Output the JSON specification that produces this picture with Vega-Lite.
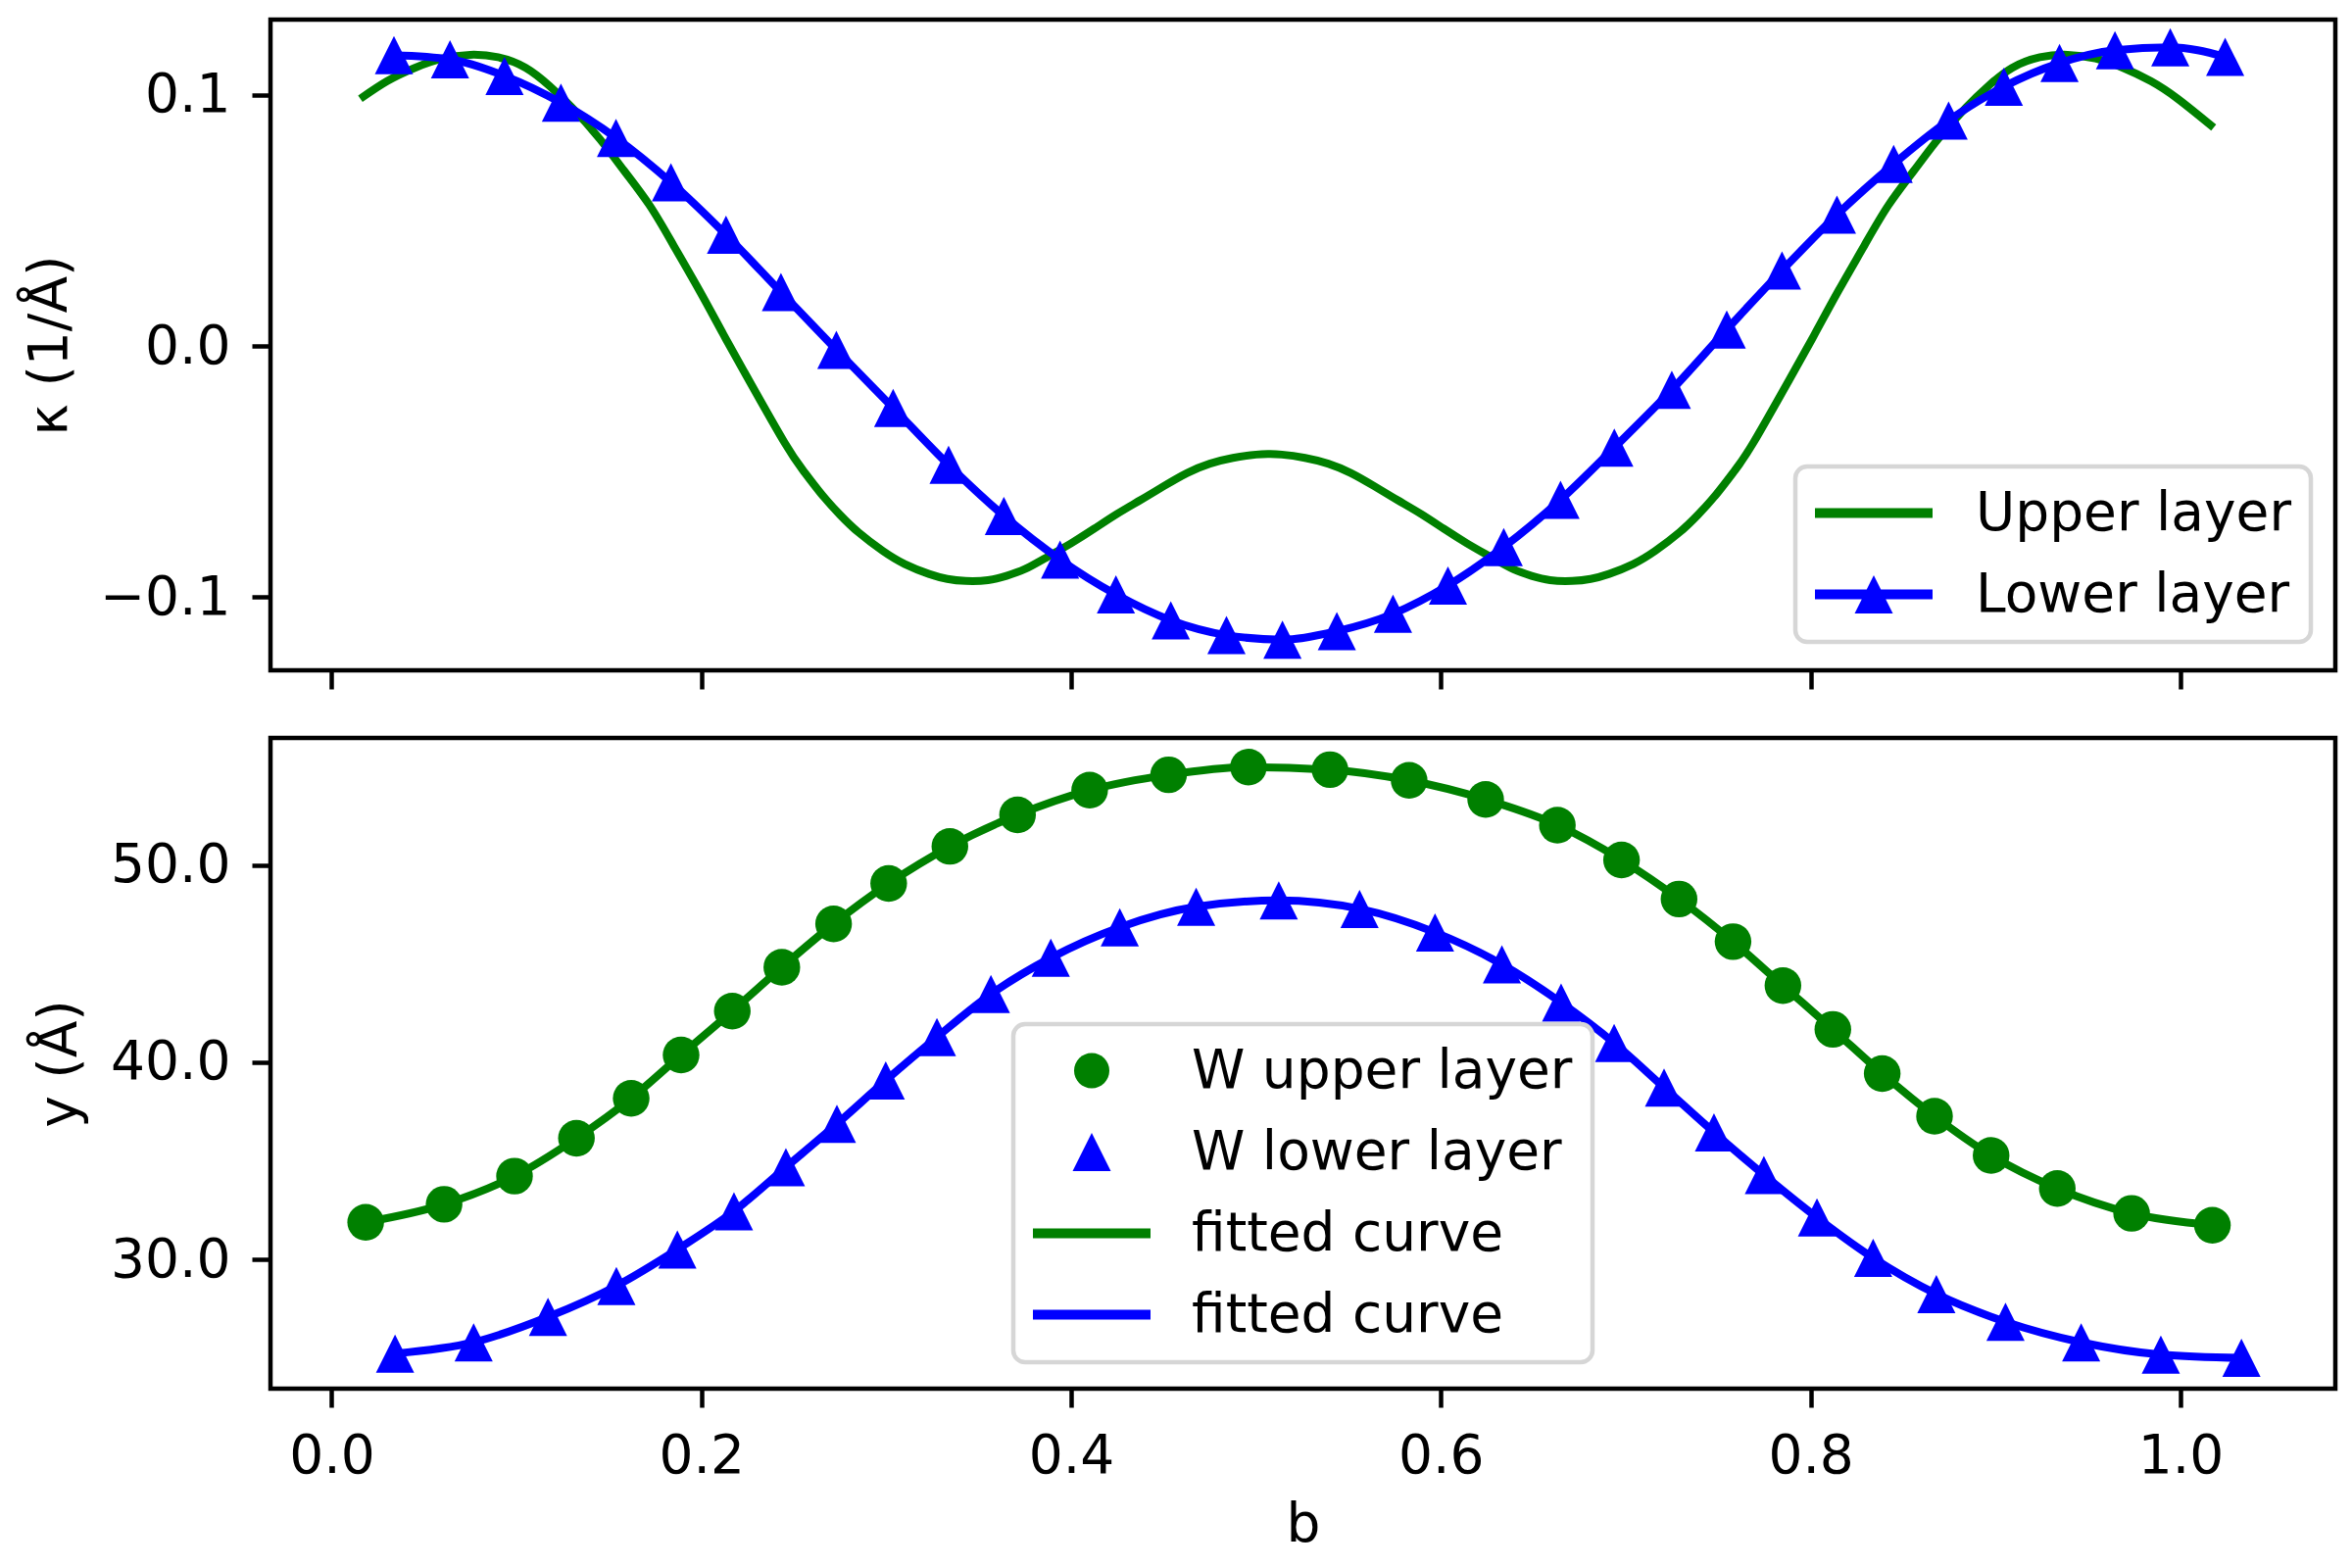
{
  "$schema": "https://vega.github.io/schema/vega-lite/v6.json",
  "background": "white",
  "padding": {"left": 20, "top": 17, "right": 10, "bottom": 10},
  "spacing": 69,
  "bounds": "flush",
  "datasets": {
    "kappa_upper": [
      {"b": 0.0155, "k": 0.0985}, {"b": 0.03, "k": 0.1055}, {"b": 0.045, "k": 0.1108},
      {"b": 0.06, "k": 0.1145}, {"b": 0.075, "k": 0.116}, {"b": 0.09, "k": 0.115},
      {"b": 0.105, "k": 0.1108}, {"b": 0.118, "k": 0.1035}, {"b": 0.13, "k": 0.095},
      {"b": 0.145, "k": 0.0825}, {"b": 0.158, "k": 0.07}, {"b": 0.172, "k": 0.056},
      {"b": 0.185, "k": 0.04}, {"b": 0.199, "k": 0.022}, {"b": 0.212, "k": 0.0045},
      {"b": 0.226, "k": -0.014}, {"b": 0.245, "k": -0.0385}, {"b": 0.255, "k": -0.0495},
      {"b": 0.265, "k": -0.059}, {"b": 0.275, "k": -0.0672}, {"b": 0.285, "k": -0.0742},
      {"b": 0.298, "k": -0.0815}, {"b": 0.31, "k": -0.0868}, {"b": 0.323, "k": -0.0907},
      {"b": 0.333, "k": -0.0927}, {"b": 0.343, "k": -0.0935}, {"b": 0.355, "k": -0.0932},
      {"b": 0.365, "k": -0.0915}, {"b": 0.375, "k": -0.0888}, {"b": 0.387, "k": -0.084},
      {"b": 0.4, "k": -0.0785}, {"b": 0.4125, "k": -0.0727}, {"b": 0.4246, "k": -0.0669},
      {"b": 0.4375, "k": -0.0613}, {"b": 0.45, "k": -0.0558}, {"b": 0.4628, "k": -0.0505},
      {"b": 0.475, "k": -0.0468}, {"b": 0.4875, "k": -0.0445}, {"b": 0.5, "k": -0.0432},
      {"b": 0.507, "k": -0.043}, {"b": 0.514, "k": -0.0432}, {"b": 0.5265, "k": -0.0445},
      {"b": 0.539, "k": -0.0468}, {"b": 0.5512, "k": -0.0505}, {"b": 0.564, "k": -0.0558},
      {"b": 0.5765, "k": -0.0613}, {"b": 0.5894, "k": -0.0669}, {"b": 0.6015, "k": -0.0727},
      {"b": 0.614, "k": -0.0785}, {"b": 0.627, "k": -0.084}, {"b": 0.639, "k": -0.0888},
      {"b": 0.649, "k": -0.0915}, {"b": 0.659, "k": -0.0932}, {"b": 0.671, "k": -0.0935},
      {"b": 0.681, "k": -0.0927}, {"b": 0.691, "k": -0.0907}, {"b": 0.704, "k": -0.0868},
      {"b": 0.716, "k": -0.0815}, {"b": 0.729, "k": -0.0742}, {"b": 0.739, "k": -0.0672},
      {"b": 0.749, "k": -0.059}, {"b": 0.759, "k": -0.0495}, {"b": 0.769, "k": -0.0385},
      {"b": 0.788, "k": -0.014}, {"b": 0.802, "k": 0.0045}, {"b": 0.815, "k": 0.022},
      {"b": 0.829, "k": 0.04}, {"b": 0.842, "k": 0.056}, {"b": 0.856, "k": 0.07},
      {"b": 0.869, "k": 0.0825}, {"b": 0.884, "k": 0.095}, {"b": 0.896, "k": 0.1035},
      {"b": 0.909, "k": 0.1108}, {"b": 0.924, "k": 0.115}, {"b": 0.939, "k": 0.116},
      {"b": 0.954, "k": 0.1145}, {"b": 0.969, "k": 0.1108}, {"b": 0.984, "k": 0.1055},
      {"b": 0.9985, "k": 0.0985}, {"b": 1.018, "k": 0.087}
    ],
    "kappa_lower": [
      {"b": 0.0337, "k": 0.1159}, {"b": 0.064, "k": 0.1142}, {"b": 0.0935, "k": 0.1076},
      {"b": 0.124, "k": 0.0969}, {"b": 0.1538, "k": 0.0829}, {"b": 0.1835, "k": 0.0652},
      {"b": 0.2133, "k": 0.0443}, {"b": 0.243, "k": 0.0215}, {"b": 0.273, "k": -0.0015},
      {"b": 0.3037, "k": -0.0246}, {"b": 0.3337, "k": -0.0473}, {"b": 0.3636, "k": -0.0676},
      {"b": 0.394, "k": -0.085}, {"b": 0.4242, "k": -0.0989}, {"b": 0.4539, "k": -0.1092},
      {"b": 0.484, "k": -0.1151}, {"b": 0.5143, "k": -0.1169}, {"b": 0.5437, "k": -0.1135},
      {"b": 0.5741, "k": -0.1066}, {"b": 0.6038, "k": -0.0953}, {"b": 0.634, "k": -0.08},
      {"b": 0.6647, "k": -0.0612}, {"b": 0.6938, "k": -0.0404}, {"b": 0.7249, "k": -0.0174},
      {"b": 0.7546, "k": 0.0066}, {"b": 0.7845, "k": 0.0301}, {"b": 0.8142, "k": 0.0523},
      {"b": 0.8449, "k": 0.0725}, {"b": 0.8746, "k": 0.0898}, {"b": 0.9045, "k": 0.1033},
      {"b": 0.9346, "k": 0.1127}, {"b": 0.9646, "k": 0.1178}, {"b": 0.9945, "k": 0.119},
      {"b": 1.0242, "k": 0.1152}
    ],
    "w_upper": [
      {"b": 0.0184, "y": 31.89}, {"b": 0.0608, "y": 32.8}, {"b": 0.0989, "y": 34.23},
      {"b": 0.1324, "y": 36.15}, {"b": 0.162, "y": 38.17}, {"b": 0.189, "y": 40.37},
      {"b": 0.2167, "y": 42.6}, {"b": 0.2435, "y": 44.82}, {"b": 0.2715, "y": 47.02},
      {"b": 0.3013, "y": 49.07}, {"b": 0.3344, "y": 50.95}, {"b": 0.371, "y": 52.55},
      {"b": 0.41, "y": 53.8}, {"b": 0.4527, "y": 54.58}, {"b": 0.4959, "y": 54.97},
      {"b": 0.54, "y": 54.84}, {"b": 0.5828, "y": 54.3}, {"b": 0.6242, "y": 53.33},
      {"b": 0.663, "y": 52.03}, {"b": 0.6977, "y": 50.26}, {"b": 0.7288, "y": 48.28},
      {"b": 0.758, "y": 46.12}, {"b": 0.785, "y": 43.89}, {"b": 0.812, "y": 41.67},
      {"b": 0.8387, "y": 39.43}, {"b": 0.867, "y": 37.27}, {"b": 0.8976, "y": 35.28},
      {"b": 0.9334, "y": 33.6}, {"b": 0.9736, "y": 32.34}, {"b": 1.0173, "y": 31.74}
    ],
    "w_lower": [
      {"b": 0.0343, "y": 25.23}, {"b": 0.0768, "y": 25.8}, {"b": 0.117, "y": 27.09},
      {"b": 0.154, "y": 28.66}, {"b": 0.187, "y": 30.51}, {"b": 0.2176, "y": 32.45},
      {"b": 0.2457, "y": 34.68}, {"b": 0.2733, "y": 36.88}, {"b": 0.2997, "y": 39.08},
      {"b": 0.3274, "y": 41.28}, {"b": 0.3566, "y": 43.46}, {"b": 0.389, "y": 45.3},
      {"b": 0.4263, "y": 46.85}, {"b": 0.4676, "y": 47.89}, {"b": 0.5123, "y": 48.21},
      {"b": 0.556, "y": 47.78}, {"b": 0.5968, "y": 46.59}, {"b": 0.633, "y": 44.97},
      {"b": 0.665, "y": 43.03}, {"b": 0.6937, "y": 40.98}, {"b": 0.7207, "y": 38.72},
      {"b": 0.7477, "y": 36.45}, {"b": 0.7747, "y": 34.29}, {"b": 0.8034, "y": 32.13},
      {"b": 0.8338, "y": 30.08}, {"b": 0.868, "y": 28.25}, {"b": 0.9054, "y": 26.84},
      {"b": 0.9463, "y": 25.8}, {"b": 0.9894, "y": 25.18}, {"b": 1.033, "y": 25.01}
    ]
  },
  "vconcat": [
    {
      "width": 2107,
      "height": 664,
      "encoding": {
        "x": {
          "field": "b", "type": "quantitative",
          "scale": {"domain": [-0.0331, 1.0838], "nice": false, "zero": false},
          "axis": {"values": [0, 0.2, 0.4, 0.6, 0.8, 1.0], "labels": false, "title": null}
        },
        "y": {
          "field": "k", "type": "quantitative",
          "scale": {"domain": [-0.1291, 0.13], "nice": false, "zero": false},
          "axis": {"values": [-0.1, 0, 0.1], "format": ".1f", "title": "κ (1/Å)", "titleX": -226, "titleBaseline": "middle"}
        }
      },
      "layer": [
        {
          "data": {"name": "kappa_upper"},
          "mark": {"type": "line", "strokeWidth": 8, "interpolate": "natural"},
          "encoding": {
            "color": {
              "datum": "Upper layer", "type": "nominal",
              "scale": {"domain": ["Upper layer", "Lower layer"], "range": ["#008000", "#0000ff"]},
              "legend": {
                "title": null, "orient": "none", "legendX": 1556, "legendY": 456,
                "padding": 20, "cornerRadius": 12, "fillColor": "white", "strokeColor": "#d6d6d6",
                "symbolSize": 14400, "clipHeight": 55, "rowPadding": 27, "labelOffset": 44,
                "labelFontSize": 55, "labelFont": "DejaVu Sans", "labelColor": "black", "labelLimit": 1000,
                "encode": {
                  "legend": {"update": {"strokeWidth": {"value": 4.5}}},
                  "symbols": {"update": {
                    "shape": {"signal": "datum.value === 'Lower layer' ? 'M-1,-0.083H1V0.083H-1Z M0,-0.325L0.325,0.325L-0.325,0.325Z' : 'M-1,-0.083H1V0.083H-1Z'"},
                    "fill": {"signal": "datum.value === 'Lower layer' ? '#0000ff' : '#008000'"},
                    "stroke": {"value": "transparent"},
                    "strokeWidth": {"value": 0},
                    "size": {"value": 14400},
                    "opacity": {"value": 1}
                  }}
                }
              }
            }
          }
        },
        {
          "data": {"name": "kappa_lower"},
          "mark": {"type": "line", "strokeWidth": 8, "interpolate": "monotone"},
          "encoding": {"color": {"datum": "Lower layer", "type": "nominal"}}
        },
        {
          "data": {"name": "kappa_lower"},
          "mark": {"type": "point", "shape": "M0,-1L1,1L-1,1Z", "filled": true, "size": 1521, "opacity": 1},
          "encoding": {"color": {"datum": "Lower layer", "type": "nominal"}}
        }
      ]
    },
    {
      "width": 2107,
      "height": 664,
      "encoding": {
        "x": {
          "field": "b", "type": "quantitative",
          "scale": {"domain": [-0.0331, 1.0838], "nice": false, "zero": false},
          "axis": {"values": [0, 0.2, 0.4, 0.6, 0.8, 1.0], "format": ".1f", "title": "b", "titlePadding": 16}
        },
        "y": {
          "field": "y", "type": "quantitative",
          "scale": {"domain": [23.45, 56.45], "nice": false, "zero": false},
          "axis": {"values": [30, 40, 50], "format": ".1f", "title": "y (Å)", "titleX": -216, "titleBaseline": "middle"}
        }
      },
      "layer": [
        {
          "data": {"name": "w_upper"},
          "mark": {"type": "line", "strokeWidth": 8, "interpolate": "monotone"},
          "encoding": {
            "color": {
              "datum": "fitted curve (green)", "type": "nominal",
              "scale": {"domain": ["W upper layer", "W lower layer", "fitted curve (green)", "fitted curve (blue)"], "range": ["#008000", "#0000ff", "#008000", "#0000ff"]},
              "legend": {
                "title": null, "orient": "none", "legendX": 758, "legendY": 292,
                "padding": 20, "cornerRadius": 12, "fillColor": "white", "strokeColor": "#d6d6d6",
                "symbolSize": 14400, "clipHeight": 55, "rowPadding": 27, "labelOffset": 42,
                "labelFontSize": 55, "labelFont": "DejaVu Sans", "labelColor": "black", "labelLimit": 1000,
                "labelExpr": "indexof(datum.label, 'fitted') === 0 ? 'fitted curve' : datum.label",
                "encode": {
                  "legend": {"update": {"strokeWidth": {"value": 4.5}}},
                  "symbols": {"update": {
                    "shape": {"signal": "datum.value === 'W upper layer' ? 'M0.3,0C0.3,0.1657,0.1657,0.3,0,0.3C-0.1657,0.3,-0.3,0.1657,-0.3,0C-0.3,-0.1657,-0.1657,-0.3,0,-0.3C0.1657,-0.3,0.3,-0.1657,0.3,0Z' : (datum.value === 'W lower layer' ? 'M0,-0.325L0.325,0.325L-0.325,0.325Z' : 'M-1,-0.083H1V0.083H-1Z')"},
                    "fill": {"signal": "(datum.value === 'W upper layer' || datum.value === 'fitted curve (green)') ? '#008000' : '#0000ff'"},
                    "stroke": {"value": "transparent"},
                    "strokeWidth": {"value": 0},
                    "size": {"value": 14400},
                    "opacity": {"value": 1}
                  }}
                }
              }
            }
          }
        },
        {
          "data": {"name": "w_lower"},
          "mark": {"type": "line", "strokeWidth": 8, "interpolate": "monotone"},
          "encoding": {"color": {"datum": "fitted curve (blue)", "type": "nominal"}}
        },
        {
          "data": {"name": "w_upper"},
          "mark": {"type": "point", "filled": true, "size": 1400, "opacity": 1},
          "encoding": {"color": {"datum": "W upper layer", "type": "nominal"}}
        },
        {
          "data": {"name": "w_lower"},
          "mark": {"type": "point", "shape": "M0,-1L1,1L-1,1Z", "filled": true, "size": 1521, "opacity": 1},
          "encoding": {"color": {"datum": "W lower layer", "type": "nominal"}}
        }
      ]
    }
  ],
  "resolve": {"scale": {"color": "independent"}, "legend": {"color": "independent"}},
  "config": {
    "font": "DejaVu Sans",
    "view": {"stroke": "black", "strokeWidth": 4.5},
    "axis": {
      "grid": false, "domain": false,
      "tickColor": "black", "tickWidth": 4.5, "tickSize": 19,
      "labelFont": "DejaVu Sans", "labelFontSize": 55, "labelColor": "black", "labelPadding": 22,
      "titleFont": "DejaVu Sans", "titleFontSize": 55, "titleFontWeight": "normal", "titleColor": "black"
    },
    "axisX": {"labelPadding": 23}
  }
}
